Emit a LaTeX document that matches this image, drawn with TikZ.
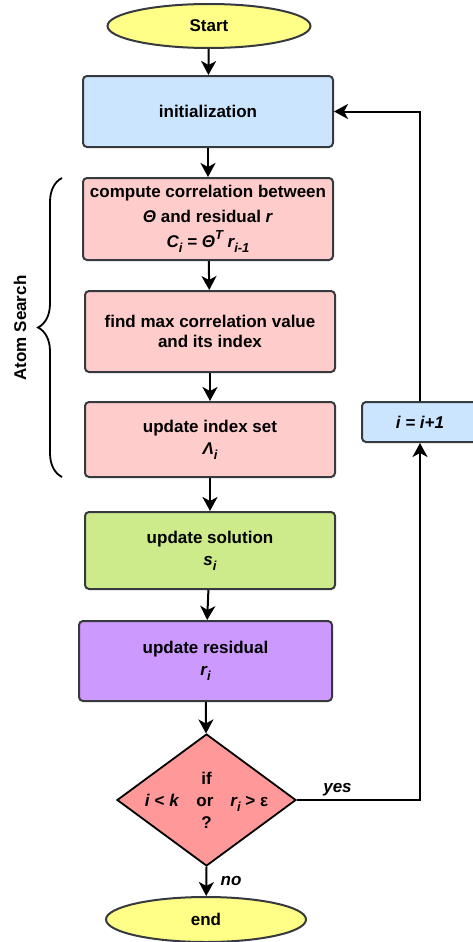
\documentclass[tikz,border=0pt]{standalone}
\usepackage{fontspec}
\setmainfont{Liberation Sans}
\usetikzlibrary{shapes.geometric,arrows.meta,decorations.pathreplacing}

\definecolor{termfill}{HTML}{FFFF88}
\definecolor{bluefill}{HTML}{CCE5FF}
\definecolor{pinkfill}{HTML}{FFCCCC}
\definecolor{greenfill}{HTML}{CDEB8B}
\definecolor{purplefill}{HTML}{CC99FF}
\definecolor{redfill}{HTML}{FF9999}
\definecolor{edgegray}{HTML}{36393D}

\newcommand{\mvar}[1]{\textit{#1}}
\newcommand{\lowi}[1]{\raisebox{-0.3em}{\fontsize{13}{13}\selectfont #1}}
\newcommand{\highi}[1]{\raisebox{0.45em}{\fontsize{13}{13}\selectfont #1}}

\begin{document}
\begin{tikzpicture}[x=1pt, y=-1pt,
  every node/.style={font=\fontsize{17}{22}\selectfont\bfseries},
  box/.style={draw=edgegray, line width=2pt, rounded corners=4pt,
    minimum width=250pt, align=center, inner sep=0pt},
  term/.style={ellipse, draw=edgegray, line width=2pt, fill=termfill,
    minimum width=203pt, minimum height=44pt, inner sep=0pt},
  arr/.style={-{Stealth[length=14pt,width=15pt,inset=4pt]}, line width=2pt}]
\useasboundingbox (0,0) rectangle (472,942);

% start / init
\node[term] (start) at (209,26) {Start};
\node[box, fill=bluefill, minimum height=71pt] (init) at (208,111.5) {initialization};

% atom search
\node[box, fill=pinkfill, minimum height=82pt,
  font=\fontsize{17}{25}\selectfont\bfseries] (corr) at (208,219)
  {compute correlation between\\
   \mvar{Θ} and residual \mvar{r}\\
   \mvar{C\lowi{i} = Θ\highi{T} r\lowi{i-1}}};
\node[box, fill=pinkfill, minimum height=81pt,
  font=\fontsize{17}{20}\selectfont\bfseries] (maxval) at (210,331.5)
  {find max correlation value\\and its index};
\node[box, fill=pinkfill, minimum height=75pt] (index) at (210,439.5)
  {update index set\\\mvar{Λ\lowi{i}}};
\draw[line width=1.8pt, decorate, decoration={brace, amplitude=24pt}]
  (62,477) -- (62,178);
\node[rotate=90] (atom) at (20,328) {Atom Search};

% solution / residual
\node[box, fill=greenfill, minimum height=77pt] (sol) at (210,550.5)
  {update solution\\\mvar{s\lowi{i}}};
\node[box, fill=purplefill, minimum height=80pt, minimum width=253pt] (resid) at (205.5,661)
  {update residual\\\mvar{r\lowi{i}}};

% test
\node[diamond, draw=black, line width=1.8pt, fill=redfill, minimum width=179pt,
  minimum height=132pt, inner sep=0pt] (cond) at (206.5,800) {};
\node[align=center] (condtext) at (cond.center)
  {if\\\mvar{i} < \mvar{k}\quad or\quad \mvar{r\lowi{i}} > ε\\?};
\node[term, minimum width=200pt, minimum height=45pt] (finish) at (206,919.5) {end};

% counter
\node[box, fill=bluefill, minimum width=116pt, minimum height=40pt] (inc) at (420,422)
  {\mvar{i = i+1}};

% arrows
\draw[arr] (start) -- (init);
\draw[arr] (init) -- (corr);
\draw[arr] (corr) -- (maxval);
\draw[arr] (maxval) -- (index);
\draw[arr] (index) -- (sol);
\draw[arr] (sol) -- (resid);
\draw[arr] (resid) -- (cond);
\draw[arr] (cond.east) -| node[pos=0.165, above, font=\fontsize{17}{22}\selectfont\bfseries\itshape] {yes} (inc.south);
\draw[arr] (inc.north) |- (init.east);
\draw[arr] (cond.south) -- node[right, xshift=10pt, font=\fontsize{17}{22}\selectfont\bfseries\itshape] {no} (finish);
\end{tikzpicture}
\end{document}
